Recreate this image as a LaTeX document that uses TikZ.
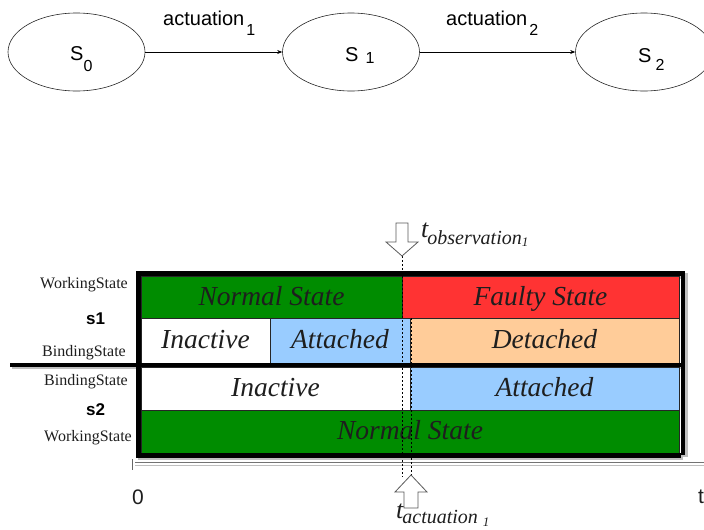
\documentclass[tikz,border=0pt]{standalone}
\usepackage{fontspec}
\setmainfont{Liberation Serif}
\newfontfamily\arialf{Liberation Sans}
\usetikzlibrary{shapes.geometric,arrows.meta}
\definecolor{cgreen}{RGB}{0,140,0}
\definecolor{cred}{RGB}{255,51,51}
\definecolor{corange}{RGB}{255,204,153}
\definecolor{cblue}{RGB}{153,204,255}
\definecolor{txt}{RGB}{30,30,30}
\begin{document}
\begin{tikzpicture}[x=1pt,y=-1pt,
  state/.style={ellipse, draw=black!85, line width=0.6pt, minimum width=137pt, minimum height=78pt, inner sep=0pt},
  stxt/.style={anchor=base west, inner sep=0pt, font=\arialf\fontsize{20}{20}\selectfont},
  acttxt/.style={anchor=base west, inner sep=0pt, font=\arialf\fontsize{20}{20}\selectfont},
  arr/.style={-{Stealth[length=5pt,width=4pt]}, line width=0.6pt},
  cell/.style={draw=black!85, line width=0.7pt, inner sep=0pt, text height=19pt, text depth=3pt, font=\itshape\fontsize{27.5}{27.5}\selectfont, text=txt},
  side/.style={anchor=base east, inner sep=0pt, font=\fontsize{16}{16}\selectfont, text=txt},
  sid/.style={anchor=base west, inner sep=0pt, font=\arialf\bfseries\fontsize{17}{17}\selectfont},
  frameline/.style={line width=5pt, black},
  shadowline/.style={line width=5pt, black!25},
  timeline/.style={line width=0.8pt, black, dash pattern=on 2pt off 2pt},
  blockarrow/.style={draw=black!65, fill=white, line width=0.8pt, line join=miter},
  ttxt/.style={anchor=base west, inner sep=0pt, text=txt}
]
\useasboundingbox (0,0) rectangle (704,530);

% --- state machine ---
\node[state] (s0) at (76.5,52) {};
\node[state] (s1) at (351,52) {};
\node[state] (s2) at (644,52) {};
\node[stxt] (s0t) at (70,60) {S\raisebox{-11pt}{\fontsize{16}{16}\selectfont 0}};
\node[stxt] (s1t) at (345,61) {S\kern7pt\raisebox{-2pt}{\fontsize{16}{16}\selectfont 1}};
\node[stxt] (s2t) at (638,62) {S\kern4pt\raisebox{-8pt}{\fontsize{16}{16}\selectfont 2}};
\draw[arr] (s0) -- (s1);
\draw[arr] (s1) -- (s2);
\node[acttxt] (act1) at (163,25) {actuation\kern2pt\raisebox{-10pt}{\fontsize{16}{16}\selectfont 1}};
\node[acttxt] (act2) at (446,25) {actuation\kern2pt\raisebox{-10pt}{\fontsize{16}{16}\selectfont 2}};

% --- frame shadows (behind everything) ---
\draw[shadowline] (138,276) -- (687,276);
\draw[shadowline] (141,273) -- (141,459);
\draw[shadowline] (138,457.5) -- (683,457.5);
\draw[shadowline] (685.5,273) -- (685.5,457);
\draw[shadowline, line width=4pt] (12,367) -- (685,367);

% --- timeline cells ---
\node[cell, fill=cgreen, minimum width=261pt, minimum height=42pt] (c1a) at (271.5,297) {Normal State};
\node[cell, fill=cred, minimum width=277pt, minimum height=42pt] (c1b) at (540.5,297) {Faulty State};
\node[cell, fill=white, minimum width=129pt, minimum height=45pt] (c2a) at (205.5,340.5) {Inactive};
\node[cell, fill=cblue, minimum width=140pt, minimum height=45pt] (c2b) at (340,340.5) {Attached};
\node[cell, fill=corange, minimum width=269pt, minimum height=45pt] (c2c) at (544.5,340.5) {Detached};
\node[cell, fill=white, minimum width=269pt, minimum height=43pt] (c3a) at (275.5,388.5) {Inactive};
\node[cell, fill=cblue, minimum width=269pt, minimum height=43pt] (c3b) at (544.5,388.5) {Attached};
\node[cell, fill=cgreen, minimum width=538pt, minimum height=43pt] (c4a) at (410,431.5) {Normal State};

% --- frame ---
\draw[frameline] (136,273.5) -- (685,273.5);
\draw[frameline] (138.5,271) -- (138.5,457);
\draw[frameline] (136,455) -- (681,455);
\draw[frameline, line width=4.5pt] (683,271) -- (683,455);
\draw[frameline, line width=4pt] (10,365) -- (683,365);

% --- side labels ---
\node[side] (lw1) at (128,288) {WorkingState};
\node[side] (lb1) at (126,356) {BindingState};
\node[side] (lb2) at (128,385) {BindingState};
\node[side] (lw2) at (132,441) {WorkingState};
\node[sid] (ls1) at (86,324) {s1};
\node[sid] (ls2) at (86,415) {s2};

% --- axis ---
\draw[black!55, line width=0.8pt] (135,462.5) -- (704,462.5);
\draw[black!25, line width=0.8pt] (135,465) -- (704,465);
\draw[black!60, line width=0.8pt] (132,459) -- (132,470);
\node[inner sep=0pt, font=\arialf\fontsize{21}{21}\selectfont, text=txt] (zero) at (138,497) {0};
\node[anchor=west, inner sep=0pt, font=\arialf\fontsize{21}{21}\selectfont, text=txt] (tend) at (698,497) {t};

% --- time markers ---
\coordinate (obsTop) at (402,256);
\coordinate (obsBot) at (402,477);
\coordinate (actTop) at (411,318);
\coordinate (actBot) at (411,475);
\draw[timeline] (obsTop) -- (obsBot);
\draw[timeline] (actTop) -- (actBot);
\draw[blockarrow] (396,223) -- (408,223) -- (408,242) -- (418,242) -- (402,256) -- (386,242) -- (396,242) -- cycle;
\draw[blockarrow] (411,475) -- (427,492) -- (418,492) -- (418,508) -- (404,508) -- (404,492) -- (395,492) -- cycle;
\node[ttxt] (tobs) at (421,237) {{\itshape\fontsize{26}{26}\selectfont t}\kern-1pt\raisebox{-7pt}{\itshape\fontsize{20}{20}\selectfont observation}\raisebox{-9pt}{\itshape\fontsize{13}{13}\selectfont 1}};
\node[ttxt] (tact) at (396,518) {{\itshape\fontsize{26}{26}\selectfont t}\kern-1pt\raisebox{-5pt}{\itshape\fontsize{20}{20}\selectfont actuation}\kern5pt\raisebox{-8pt}{\itshape\fontsize{13}{13}\selectfont 1}};
\end{tikzpicture}
\end{document}
